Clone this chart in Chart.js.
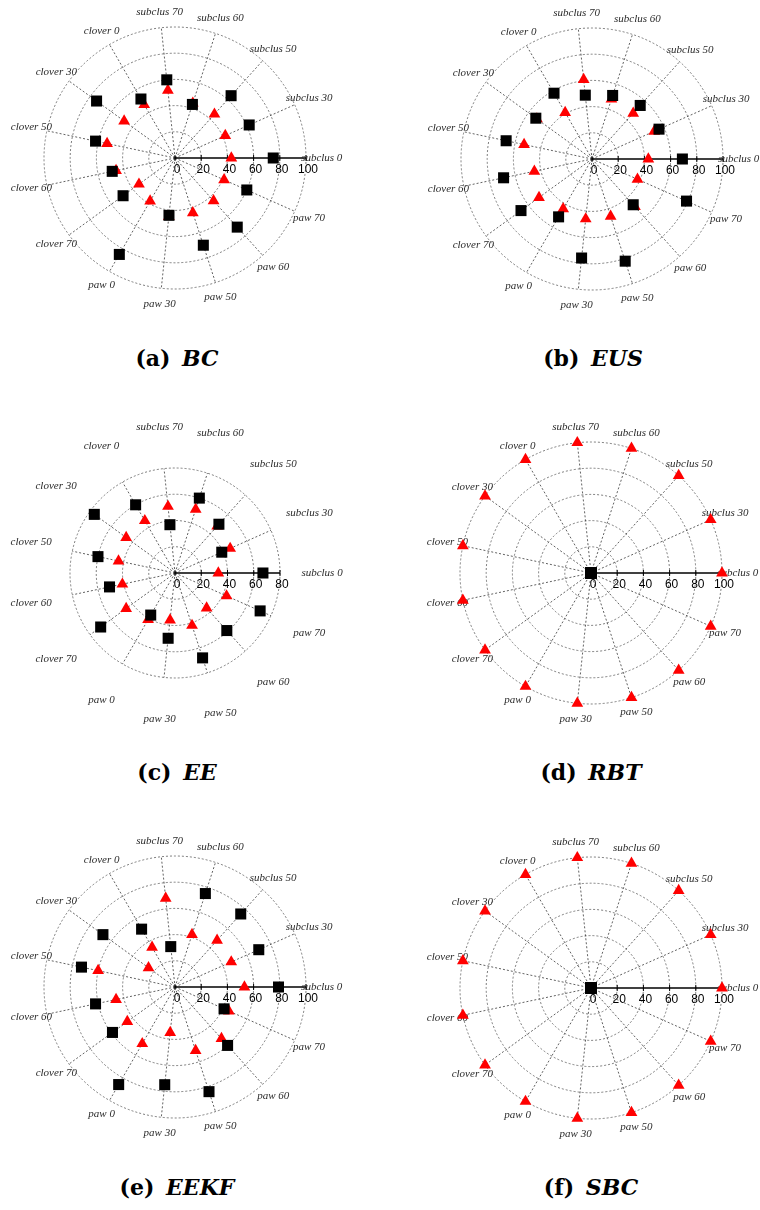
<!DOCTYPE html>
<html>
<head>
<meta charset="utf-8">
<script src="https://cdn.jsdelivr.net/npm/chart.js@4.4.0/dist/chart.umd.min.js"></script>
<style>
  body { margin: 0; background: #fff; }
  #pagina { position: relative; width: 760px; height: 1210px; overflow: hidden; background: #fff; }
  .painel { position: absolute; }
  .legenda {
    position: absolute; width: 300px; text-align: center;
    font-family: 'DejaVu Serif', serif; font-weight: bold; font-size: 22px;
    line-height: 26px; color: #000;
  }
  .legenda i { margin-left: 4px; }
</style>
</head>
<body>
<div id="pagina">
  <canvas id="graficoBC" class="painel" width="380" height="340" style="left:-15px;top:-12px"></canvas>
  <canvas id="graficoEUS" class="painel" width="380" height="340" style="left:402px;top:-11px"></canvas>
  <canvas id="graficoEE" class="painel" width="380" height="340" style="left:-15px;top:403px"></canvas>
  <canvas id="graficoRBT" class="painel" width="380" height="340" style="left:401px;top:403px"></canvas>
  <canvas id="graficoEEKF" class="painel" width="380" height="340" style="left:-15px;top:817px"></canvas>
  <canvas id="graficoSBC" class="painel" width="380" height="340" style="left:401px;top:818px"></canvas>

  <div class="legenda" style="left:27px;top:345px">(a) <i>BC</i></div>
  <div class="legenda" style="left:443px;top:345px">(b) <i>EUS</i></div>
  <div class="legenda" style="left:27px;top:759px">(c) <i>EE</i></div>
  <div class="legenda" style="left:441px;top:759px">(d) <i>RBT</i></div>
  <div class="legenda" style="left:27px;top:1174px">(e) <i>EEKF</i></div>
  <div class="legenda" style="left:441px;top:1174px">(f) <i>SBC</i></div>
</div>

<script>
// categories counterclockwise from the 0 degree axis
const categories = ['subclus 0', 'subclus 30', 'subclus 50', 'subclus 60', 'subclus 70',
  'clover 0', 'clover 30', 'clover 50', 'clover 60', 'clover 70',
  'paw 0', 'paw 30', 'paw 50', 'paw 60', 'paw 70'];
const radialTicks = [0, 20, 40, 60, 80, 100];
const radialTicksEE = [0, 20, 40, 60, 80];
const labelRadius = 112;

// (a) BC
const bcSquares = [75, 62, 64, 43, 60, 52, 74, 62, 49, 49, 85, 44, 70, 71, 60];
const bcTriangles = [43, 42, 45, 44, 52, 47, 48, 53, 46, 34, 38, 45, 44, 44, 41];
// (b) EUS
const eusSquares = [69, 56, 55, 51, 49, 58, 53, 67, 69, 67, 51, 76, 82, 47, 79];
const eusTriangles = [43, 52, 47, 48, 61, 41, 52, 53, 45, 50, 44, 46, 46, 49, 38];
// (c) EE
const eeSquares = [67, 39, 50, 60, 37, 60, 76, 60, 51, 70, 37, 50, 68, 59, 71];
const eeTriangles = [33, 46, 48, 51, 51, 46, 46, 44, 41, 46, 41, 36, 42, 36, 43];
// (d) RBT
const rbtSquares = [0, 0, 0, 0, 0, 0, 0, 0, 0, 0, 0, 0, 0, 0, 0];
const rbtTriangles = [100, 100, 100, 100, 100, 100, 100, 100, 100, 100, 100, 100, 100, 100, 100];
// (e) EEKF
const eekfSquares = [79, 70, 75, 75, 31, 51, 68, 73, 62, 59, 86, 75, 84, 60, 41];
const eekfTriangles = [53, 47, 48, 42, 68, 35, 25, 60, 46, 45, 50, 35, 51, 53, 45];
// (f) SBC
const sbcSquares = [0, 0, 0, 0, 0, 0, 0, 0, 0, 0, 0, 0, 0, 0, 0];
const sbcTriangles = [100, 100, 100, 100, 100, 100, 100, 100, 100, 100, 100, 100, 100, 100, 100];

// radar goes clockwise from startAngle, the figure goes counterclockwise
const order = categories.map((c, i) => (categories.length - i) % categories.length);
function reorder(values) {
  return order.map(i => values[i]);
}

// category labels, tick marks and numbers on the 0 degree axis
const polarDecor = {
  id: 'polarDecor',
  beforeDatasetsDraw(chart) {
    const r = chart.scales.r;
    const ctx = chart.ctx;
    ctx.save();
    ctx.font = 'italic 11px "Liberation Serif"';
    ctx.fillStyle = '#2a2a2a';
    ctx.textAlign = 'center';
    ctx.textBaseline = 'middle';
    chart.data.labels.forEach((label, i) => {
      const p = r.getPointPositionForValue(i, labelRadius);
      ctx.fillText(label, p.x, p.y);
    });

    ctx.strokeStyle = '#000';
    ctx.lineWidth = 1;
    ctx.fillStyle = '#000';
    ctx.font = '12px "Liberation Sans"';
    r.ticks.forEach(t => {
      const p = r.getPointPositionForValue(0, t.value);
      ctx.beginPath();
      ctx.moveTo(p.x, p.y - 3);
      ctx.lineTo(p.x, p.y + 3);
      ctx.stroke();
      ctx.fillText(String(t.value), p.x + 2, p.y + 12);
    });
    ctx.restore();
  }
};

function graficoPolar(id, squares, triangles, ticks, radius) {
  const ctx = document.getElementById(id).getContext('2d');
  return new Chart(ctx, {
    type: 'radar',
    data: {
      labels: reorder(categories),
      datasets: [{
        data: reorder(squares),
        showLine: false,
        fill: false,
        pointStyle: 'rect',
        pointRadius: 7.8,
        pointBackgroundColor: '#000',
        pointBorderColor: '#000',
        pointBorderWidth: 0
      }, {
        data: reorder(triangles),
        showLine: false,
        fill: false,
        pointStyle: 'triangle',
        pointRadius: 6.8,
        pointBackgroundColor: '#ff0000',
        pointBorderColor: '#ff0000',
        pointBorderWidth: 0
      }]
    },
    options: {
      responsive: false,
      animation: false,
      events: [],
      layout: {
        padding: { left: 190 - radius, right: 190 - radius, top: 170 - radius, bottom: 170 - radius }
      },
      scales: {
        r: {
          min: ticks[0],
          max: ticks[ticks.length - 1],
          startAngle: 90,
          ticks: { display: false, stepSize: ticks[1] - ticks[0] },
          pointLabels: { display: false },
          grid: { circular: true, color: '#6e6e6e', lineWidth: 0.9 },
          border: { dash: [2, 2] },
          angleLines: {
            color: c => c.index === 0 ? '#000' : '#3a3a3a',
            lineWidth: c => c.index === 0 ? 1.4 : 0.8,
            borderDash: c => c.index === 0 ? [] : [2, 2]
          }
        }
      },
      plugins: {
        legend: { display: false },
        tooltip: { enabled: false }
      }
    },
    plugins: [polarDecor]
  });
}

document.addEventListener('DOMContentLoaded', function() {
  graficoPolar('graficoBC', bcSquares, bcTriangles, radialTicks, 131);
  graficoPolar('graficoEUS', eusSquares, eusTriangles, radialTicks, 131);
  graficoPolar('graficoEE', eeSquares, eeTriangles, radialTicksEE, 105);
  graficoPolar('graficoRBT', rbtSquares, rbtTriangles, radialTicks, 131);
  graficoPolar('graficoEEKF', eekfSquares, eekfTriangles, radialTicks, 131);
  graficoPolar('graficoSBC', sbcSquares, sbcTriangles, radialTicks, 131);
});
</script>
</body>
</html>
